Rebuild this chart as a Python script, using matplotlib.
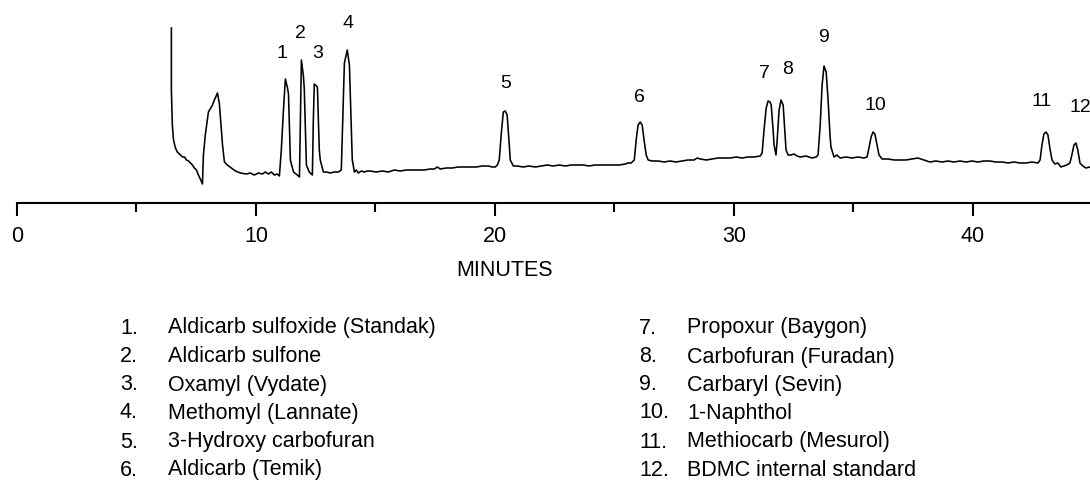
import matplotlib
matplotlib.use('Agg')
import matplotlib.pyplot as plt
import numpy as np

plt.rcParams['font.family'] = ['Liberation Sans', 'DejaVu Sans']

# detector trace (minutes, response in arbitrary units)
time = [
    6.46, 6.46, 6.50, 6.55, 6.63, 6.71, 6.84, 6.93, 7.01, 7.09, 7.18, 7.26, 7.34, 7.42, 7.51, 7.59, 7.67, 7.76,
    7.80, 7.88, 8.01, 8.18, 8.26, 8.39, 8.47, 8.55, 8.60, 8.68, 8.80, 8.97, 9.14, 9.35, 9.60, 9.76, 9.93,
    10.10, 10.27, 10.39, 10.52, 10.64, 10.77, 10.89, 10.98,
    11.06, 11.15, 11.23, 11.32, 11.36, 11.44, 11.57, 11.73,
    11.82, 11.86, 11.90, 11.98, 12.02, 12.11, 12.23, 12.32,
    12.36, 12.40, 12.44, 12.53, 12.57, 12.65, 12.69, 12.82, 12.94, 13.11, 13.28, 13.45,
    13.57, 13.66, 13.70, 13.82, 13.91, 14.03, 14.12, 14.20, 14.28, 14.41, 14.53, 14.66,
    14.78, 15.03, 15.29, 15.54, 15.79, 16.04, 16.29, 16.54, 16.79, 17.04, 17.29, 17.46, 17.59, 17.71,
    17.96, 18.21, 18.46, 18.71, 18.97, 19.22, 19.47, 19.72, 19.89, 20.01, 20.10,
    20.18, 20.26, 20.35, 20.43, 20.51, 20.60, 20.64, 20.77, 20.93, 21.18, 21.43, 21.69, 21.94, 22.19,
    22.44, 22.69, 22.94, 23.19, 23.44, 23.69, 23.94, 24.19, 24.44, 24.70, 24.95, 25.20, 25.45, 25.57, 25.70,
    25.83, 25.91, 25.99, 26.08, 26.16, 26.24, 26.33, 26.41, 26.58, 26.83, 27.08, 27.33, 27.58, 27.83,
    28.08, 28.33, 28.46, 28.59, 28.84, 29.09, 29.34, 29.59, 29.84, 30.09, 30.34, 30.59, 30.84, 31.10,
    31.18, 31.26, 31.35, 31.43, 31.51, 31.56, 31.64, 31.68, 31.72, 31.76,
    31.81, 31.89, 31.97, 32.06, 32.14, 32.18, 32.27, 32.39, 32.52, 32.64, 32.77, 33.02, 33.27, 33.44,
    33.52, 33.61, 33.69, 33.77, 33.86, 33.94, 34.02, 34.06, 34.19, 34.31, 34.44, 34.69, 34.94, 35.19, 35.44,
    35.57, 35.65, 35.74, 35.82, 35.90, 35.99, 36.07, 36.20, 36.45, 36.70, 36.95, 37.20, 37.45, 37.70,
    37.95, 38.20, 38.45, 38.71, 38.96, 39.21, 39.46, 39.71, 39.96, 40.21, 40.46, 40.71, 40.96, 41.22,
    41.47, 41.72, 41.97, 42.22, 42.47, 42.72,
    42.81, 42.89, 42.97, 43.06, 43.14, 43.22, 43.31, 43.43, 43.56, 43.68, 43.81, 43.93, 44.06,
    44.14, 44.23, 44.31, 44.39, 44.48, 44.60, 44.73, 44.90,
]
response = [
    175, 113, 78, 63, 55, 51, 48, 46, 46, 43, 42, 40, 38, 35, 33, 28, 24, 19,
    48, 68, 91, 98, 103, 110, 99, 73, 58, 41, 38, 35, 32, 30, 29, 30, 28,
    30, 29, 31, 29, 31, 28, 29, 27,
    53, 93, 124, 115, 109, 43, 31, 28,
    26, 83, 143, 128, 115, 38, 31, 29,
    28, 83, 119, 117, 116, 53, 43, 31, 31, 30, 31, 31,
    33, 108, 140, 153, 138, 43, 31, 33, 30, 32, 31, 32,
    32, 31, 32, 31, 33, 32, 33, 33, 33, 33, 34, 34, 36, 34,
    35, 35, 36, 36, 36, 36, 37, 37, 36, 36, 38,
    43, 68, 91, 92, 88, 58, 43, 37, 37, 36, 37, 36, 37, 38,
    37, 38, 37, 38, 38, 38, 37, 38, 38, 38, 38, 38, 39, 40, 40,
    43, 63, 78, 81, 78, 63, 48, 43, 42, 42, 41, 42, 41, 42,
    43, 43, 45, 44, 43, 44, 45, 45, 45, 46, 45, 46, 46, 47,
    50, 73, 95, 102, 101, 98, 73, 58, 53, 48,
    63, 93, 103, 98, 68, 53, 48, 48, 49, 47, 46, 47, 45, 46,
    48, 78, 118, 137, 131, 103, 68, 56, 46, 48, 45, 46, 45, 46, 45,
    46, 55, 66, 71, 69, 58, 48, 44, 44, 43, 43, 43, 44, 45,
    43, 41, 42, 41, 42, 41, 42, 41, 42, 41, 42, 42, 41, 41,
    40, 41, 40, 40, 41, 40,
    43, 58, 69, 71, 68, 55, 43, 39, 40, 36, 37, 38, 40,
    48, 58, 60, 53, 40, 37, 35, 36,
]

peak_ids = ['1', '2', '3', '4', '5', '6', '7', '8', '9', '10', '11', '12']
peak_times = [11.23, 11.90, 12.44, 13.82, 20.43, 26.08, 31.43, 31.97, 33.77, 35.82, 43.06, 44.31]
# small nudges of the numbers away from the apex (pixels)
label_dx = [-3, -1, 3, 1, 0, -1, -4, 7, -1, 2, -4, 4]
label_dy = [26, 27, 31, 27, 27, 24, 28, 30, 28, 27, 30, 35]

compounds_left = ['Aldicarb sulfoxide (Standak)', 'Aldicarb sulfone', 'Oxamyl (Vydate)',
                  'Methomyl (Lannate)', '3-Hydroxy carbofuran', 'Aldicarb (Temik)']
compounds_right = ['Propoxur (Baygon)', 'Carbofuran (Furadan)', 'Carbaryl (Sevin)',
                   '1-Naphthol', 'Methiocarb (Mesurol)', 'BDMC internal standard']

W, H = 1090, 483
fig = plt.figure(figsize=(W / 100, H / 100), dpi=100)
ax = fig.add_axes([17 / W, (H - 203) / H, 1073 / W, 203 / H])

ax.plot(time, response, color='black', lw=1.15, clip_on=False)
ax.set_xlim(0, 44.9)
ax.set_ylim(0, 203)

peak_heights = np.interp(peak_times, time, response)
for lab, t, h, dx, dy in zip(peak_ids, peak_times, peak_heights, label_dx, label_dy):
    ax.annotate(lab, xy=(t, h), xytext=(dx, dy), textcoords='offset pixels',
                ha='center', va='center', fontsize=14, annotation_clip=False)

for s in ['left', 'right', 'top']:
    ax.spines[s].set_visible(False)
ax.spines['bottom'].set_linewidth(1.5)
ax.set_yticks([])
ax.set_xticks([0, 10, 20, 30, 40])
ax.set_xticks([5, 15, 25, 35], minor=True)
ax.tick_params(axis='x', which='major', direction='out', length=9.5, width=1.5,
               labelsize=15.5, pad=7)
ax.tick_params(axis='x', which='minor', direction='out', length=6.5, width=1.5)
ax.set_xlabel('MINUTES', fontsize=15.5)
ax.xaxis.set_label_coords((505 - 17) / 1073, (203 - 271) / 203)
ax.xaxis.label.set_va('center')

row_y = [328, 357, 385, 413, 442, 470]
for i, (a, b) in enumerate(zip(compounds_left, compounds_right)):
    y = 1 - row_y[i] / H
    fig.text(120 / W, y, '%d.' % (i + 1), fontsize=15.5, va='center')
    fig.text(168 / W, y, a, fontsize=15.5, va='center')
    fig.text(639 / W, y, '%d.' % (i + 7), fontsize=15.5, va='center')
    fig.text(687 / W, y, b, fontsize=15.5, va='center')

plt.savefig('out.png', dpi=100)
